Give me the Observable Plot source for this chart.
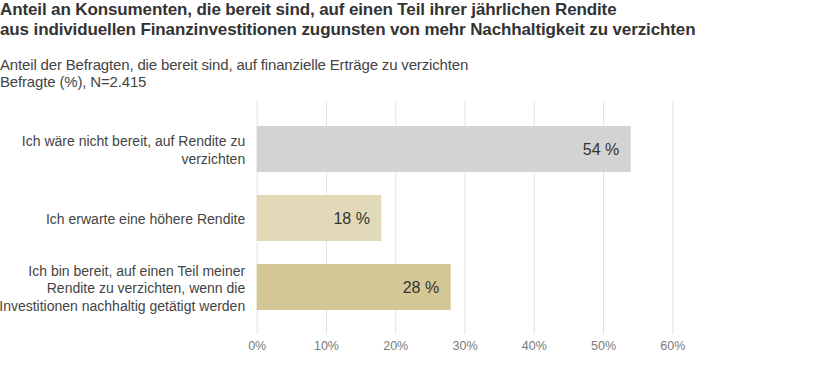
<!DOCTYPE html>
<html>
<head>
<meta charset="utf-8">
<script src="https://cdn.jsdelivr.net/npm/d3@7"></script>
<script src="https://cdn.jsdelivr.net/npm/@observablehq/plot@0.6"></script>
<style>
  html, body { margin: 0; padding: 0; background: #fff; }
  body { width: 840px; height: 366px; overflow: hidden; font-family: "Liberation Sans", Arial, sans-serif; }
  #header { height: 92px; position: relative; }
  #title { position: absolute; left: 0; top: 0px; font-size: 17px; font-weight: bold; line-height: 19.5px; color: #333; letter-spacing: -0.12px; white-space: nowrap; }
  #subtitle { position: absolute; left: 0; top: 56px; font-size: 15px; line-height: 17px; color: #444; letter-spacing: -0.16px; white-space: nowrap; }
</style>
</head>
<body>
<div id="header">
  <div id="title">Anteil an Konsumenten, die bereit sind, auf einen Teil ihrer jährlichen Rendite<br>aus individuellen Finanzinvestitionen zugunsten von mehr Nachhaltigkeit zu verzichten</div>
  <div id="subtitle">Anteil der Befragten, die bereit sind, auf finanzielle Erträge zu verzichten<br>Befragte (%), N=2.415</div>
</div>
<div id="chart"></div>
<script>
const categories = [
  "Ich wäre nicht bereit, auf Rendite zu\nverzichten",
  "Ich erwarte eine höhere Rendite",
  "Ich bin bereit, auf einen Teil meiner\nRendite zu verzichten, wenn die\nInvestitionen nachhaltig getätigt werden"
];
const values = [54, 18, 28];
const colors = ["#d3d3d3", "#e2d9b8", "#d4c795"];
const xTicks = [0, 10, 20, 30, 40, 50, 60];

const data = categories.map((c, i) => ({category: c, value: values[i], color: colors[i]}));

const chart = Plot.plot({
  width: 840,
  height: 274,
  marginLeft: 256.7,
  marginRight: 167.7,
  marginTop: 9.4,
  marginBottom: 31.6,
  style: {fontFamily: '"Liberation Sans", Arial, sans-serif', background: "#fff"},
  x: {domain: [0, 60], ticks: xTicks},
  y: {domain: categories, padding: 0.33, label: null},
  marks: [
    Plot.gridX(xTicks, {stroke: "#e3e3e3", strokeOpacity: 1, strokeWidth: 1}),
    Plot.barX(data, {x: "value", y: "category", fill: "color"}),
    Plot.text(data, {x: "value", y: "category", text: d => d.value + " %", textAnchor: "end", dx: -12, fontSize: 16, fill: "#333"}),
    Plot.axisX(xTicks, {tickSize: 0, tickPadding: 6, tickFormat: d => d + "%", fontSize: 12.5, fill: "#7a7a7a", label: null}),
    Plot.axisY({tickSize: 0, tickPadding: 12, fontSize: 14, lineHeight: 1.25, fill: "#444", label: null, style: {letterSpacing: "-0.3px"}})
  ]
});
document.getElementById("chart").appendChild(chart);
</script>
</body>
</html>
